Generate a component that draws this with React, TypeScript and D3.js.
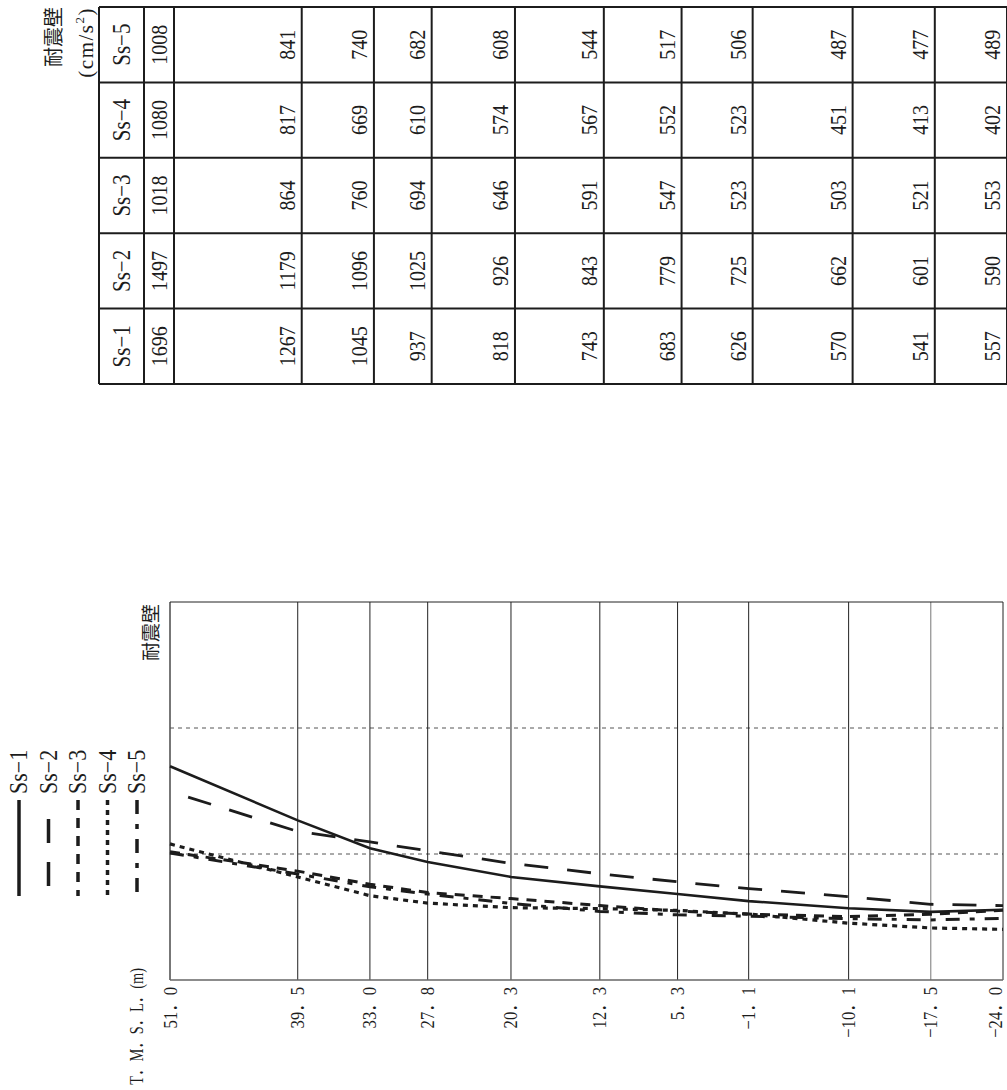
import React from "react";
import * as d3 from "d3";

// elevations (T.M.S.L., m) and tick labels
const elevations = [51.0, 39.5, 33.0, 27.8, 20.3, 12.3, 5.3, -1.1, -10.1, -17.5, -24.0];
const elevLabels = ["51．0", "39．5", "33．0", "27．8", "20．3", "12．3", "5．3", "−1．1", "−10．1", "−17．5", "−24．0"];

// max response acceleration (cm/s2) per elevation
const seriesNames = ["Ss−1", "Ss−2", "Ss−3", "Ss−4", "Ss−5"];
const ss1 = [1696, 1267, 1045, 937, 818, 743, 683, 626, 570, 541, 557];
const ss2 = [1497, 1179, 1096, 1025, 926, 843, 779, 725, 662, 601, 590];
const ss3 = [1018, 864, 760, 694, 646, 591, 547, 523, 503, 521, 553];
const ss4 = [1080, 817, 669, 610, 574, 567, 552, 523, 451, 413, 402];
const ss5 = [1008, 841, 740, 682, 608, 544, 517, 506, 487, 477, 489];

const accelDomain = [0, 3000];
const accelGrid = [1000, 2000];

const W = 1007;
const H = 1090;
const serif = "'Liberation Serif', 'Noto Sans CJK JP', serif";
const jp = "'Noto Sans CJK JP', sans-serif";
const ink = "#1c1c1c";

// line styles
const styles = [
    { dash: null, off: 0, w: 2.6 },
    { dash: "24,19", off: 24, w: 2.8 },
    { dash: "10,8", off: 0, w: 3 },
    { dash: "5,5", off: 0, w: 3.2 },
    { dash: "14,10,5,10", off: 0, w: 3 },
];

function VText({ x, y, anchor = "middle", size, sx = 1, sy = 1, family = serif, spacing = 0, children, fill = ink }) {
    return (
        <text
            transform={`translate(${x},${y}) rotate(-90) scale(${sx},${sy})`}
            textAnchor={anchor}
            dominantBaseline="central"
            fontSize={size}
            fontFamily={family}
            letterSpacing={spacing}
            fill={fill}
        >
            {children}
        </text>
    );
}

export default function App() {
    React.useEffect(() => {
        document.body.style.margin = "0";
        document.body.style.overflow = "hidden";
    }, []);

    const data = [ss1, ss2, ss3, ss4, ss5];

    const x = d3.scaleLinear().domain([51, -24]).range([170, 1003]);
    const y = d3.scaleLinear().domain(accelDomain).range([980, 602]);

    // table bands (rows of the rotated table)
    const band = d3
        .scaleBand()
        .domain(["Ss−5", "Ss−4", "Ss−3", "Ss−2", "Ss−1"])
        .range([7, 384]);
    const tableLeft = 99;
    const headRight = 144;
    const colLines = [tableLeft, headRight, ...elevations.map((e) => x(e) + 4)];

    const line = d3
        .line()
        .x((_, i) => x(elevations[i]))
        .y((d) => y(d));

    return (
        <svg width={W} height={H} style={{ display: "block", position: "absolute", left: 0, top: 0, background: "#fff" }}>
            {/* table */}
            <VText x={52} y={7} anchor="end" size={20} family={jp}>耐震壁</VText>
            <VText x={86} y={7} anchor="end" size={21} spacing={1.5}>
                (cm/s<tspan fontSize={13} dy={-7}>2</tspan>
                <tspan dy={7}>)</tspan>
            </VText>
            <g stroke={ink} strokeWidth={2}>
                {band.domain().map((s) => (
                    <line key={s} x1={tableLeft} x2={W} y1={band(s)} y2={band(s)} />
                ))}
                <line x1={tableLeft} x2={W} y1={384} y2={384} />
                {colLines.map((c, i) => (
                    <line key={i} x1={c} x2={c} y1={7} y2={384} />
                ))}
            </g>
            {seriesNames.map((s, si) => {
                const cy = band(s) + band.bandwidth() / 2;
                return (
                    <g key={s}>
                        <VText x={122} y={cy} size={21} sy={1.15}>{s}</VText>
                        {data[si].map((v, i) => (
                            <VText key={i} x={x(elevations[i]) - 10} y={cy} size={20} sy={1.12}>{v}</VText>
                        ))}
                    </g>
                );
            })}

            {/* legend */}
            {seriesNames.map((s, i) => {
                const lx = 19 + i * 29.5;
                const st = styles[i];
                return (
                    <g key={s}>
                        <VText x={lx} y={794} anchor="start" size={22} sy={1.1}>{s}</VText>
                        <line
                            x1={lx}
                            x2={lx}
                            y1={800}
                            y2={896}
                            stroke={ink}
                            strokeWidth={3.5}
                            strokeDasharray={st.dash || undefined}
                            strokeDashoffset={st.off}
                        />
                    </g>
                );
            })}

            {/* chart */}
            <VText x={149} y={604} anchor="end" size={19} family={jp}>耐震壁</VText>
            <VText x={137} y={968} anchor="end" size={18} sx={0.8} sy={1.1}>T．M．S．L．(m)</VText>

            {accelGrid.map((a) => (
                <line key={a} x1={x(51)} x2={x(-24)} y1={y(a)} y2={y(a)} stroke="#555" strokeWidth={1} strokeDasharray="4,4" />
            ))}
            {elevations.map((e, i) => (
                <line
                    key={i}
                    x1={x(e)}
                    x2={x(e)}
                    y1={y(3000)}
                    y2={y(0)}
                    stroke={i === 0 ? "#555" : i === 9 ? "#777" : "#222"}
                    strokeWidth={i === 0 ? 1.6 : 1}
                />
            ))}
            <line x1={x(51)} x2={x(-24)} y1={y(3000)} y2={y(3000)} stroke="#222" strokeWidth={1} />
            <line x1={x(51)} x2={x(-24)} y1={y(0)} y2={y(0)} stroke="#666" strokeWidth={1.4} />

            {elevLabels.map((l, i) => (
                <VText key={i} x={Math.min(x(elevations[i]), W - 12)} y={987} anchor="end" size={18} sx={0.92} sy={1.1}>{l}</VText>
            ))}

            {data
                .map((d, i) => ({ d, i }))
                .reverse()
                .map(({ d, i }) => (
                    <path
                        key={i}
                        d={line(d)}
                        fill="none"
                        stroke={ink}
                        strokeWidth={styles[i].w}
                        strokeDasharray={styles[i].dash || undefined}
                        strokeDashoffset={styles[i].off}
                    />
                ))}
        </svg>
    );
}
